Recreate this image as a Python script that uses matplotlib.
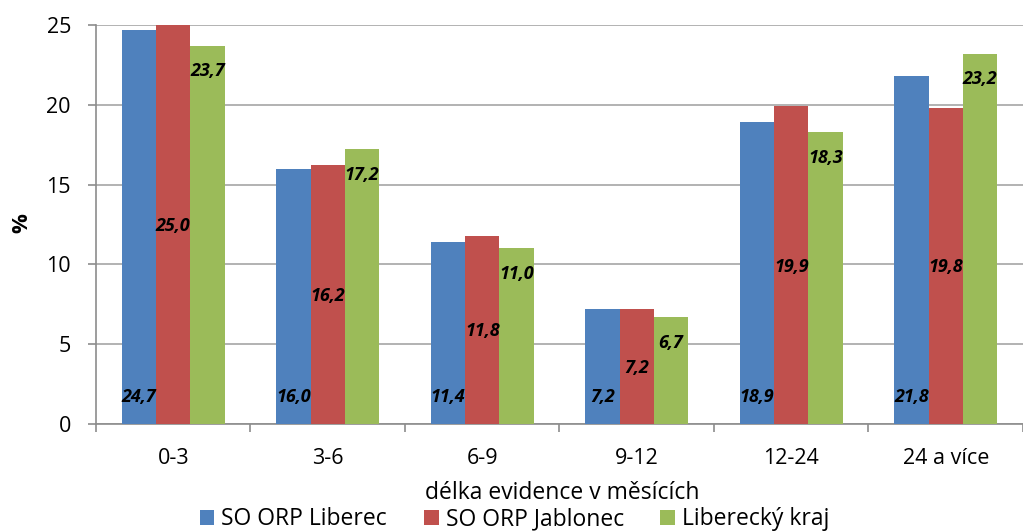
import matplotlib
matplotlib.use("Agg")
import matplotlib.pyplot as plt
import numpy as np

categories = ["0-3", "3-6", "6-9", "9-12", "12-24", "24 a více"]
series_names = ["SO ORP Liberec", "SO ORP Jablonec", "Liberecký kraj"]
liberec = [24.7, 16.0, 11.4, 7.2, 18.9, 21.8]
jablonec = [25.0, 16.2, 11.8, 7.2, 19.9, 19.8]
kraj = [23.7, 17.2, 11.0, 6.7, 18.3, 23.2]
colors = ["#4F81BD", "#C0504D", "#9BBB59"]

plt.rcParams['font.family'] = ['Open Sans', 'DejaVu Sans']

fig = plt.figure(figsize=(10.23, 5.32), dpi=100)
ax = fig.add_axes([0.0938, 0.203, 1.0 - 0.0938, 0.953 - 0.203])

x = np.arange(len(categories))
w = 0.222
series = [liberec, jablonec, kraj]
for i, (vals, c, name) in enumerate(zip(series, colors, series_names)):
    ax.bar(x + (i - 1) * w, vals, width=w, color=c, label=name, zorder=3,
           edgecolor="none")

def fmt(v):
    return f"{v:.1f}".replace(".", ",")

lab_kw = dict(ha="center", va="center", fontsize=13, fontweight="bold",
              fontstyle="italic", color="black", zorder=5)
for j in range(len(categories)):
    # blue: inside base
    ax.annotate(fmt(liberec[j]), xy=(x[j] - w, 0), xytext=(0, 19.5),
                textcoords="offset points", **lab_kw)
    # red: center
    ax.annotate(fmt(jablonec[j]), xy=(x[j], jablonec[j] / 2), xytext=(0, -1),
                textcoords="offset points", **lab_kw)
    # green: inside end
    ax.annotate(fmt(kraj[j]), xy=(x[j] + w, kraj[j]), xytext=(0, -18.5),
                textcoords="offset points", **lab_kw)

ax.set_ylim(0, 25)
ax.set_xlim(-0.5, 5.43)
ax.set_yticks([0, 5, 10, 15, 20, 25])
ax.yaxis.grid(True, color="#A6A6A6", linewidth=1.2, zorder=0)
ax.set_axisbelow(True)

ax.set_xticks(np.arange(-0.5, 5.6, 1.0))
ax.set_xticklabels([])
ax.set_xticks(x, minor=True)
ax.set_xticklabels(categories, minor=True)
ax.tick_params(axis="x", which="major", length=6, width=1.2, color="#8C8C8C", direction="out")
ax.tick_params(axis="x", which="minor", length=0, pad=17, labelsize=15.5)
ax.tick_params(axis="y", length=6, width=1.2, color="#8C8C8C", pad=12, labelsize=15.5)

for s in ["top", "right"]:
    ax.spines[s].set_visible(False)
for s in ["left", "bottom"]:
    ax.spines[s].set_color("#8C8C8C")
    ax.spines[s].set_linewidth(1.2)

fig.text(0.021, 0.58, "%", rotation=90, ha="center", va="center",
         fontsize=16, fontweight="bold")
fig.text(0.55, 0.073, "délka evidence v měsících", ha="center", va="center",
         fontsize=16.5)

fig.legend(loc="center", bbox_to_anchor=(0.503, 0.024), ncol=3, frameon=False,
           fontsize=16.5, handlelength=0.65, handleheight=0.65, handletextpad=0.3,
           columnspacing=1.6, borderaxespad=0, borderpad=0)

fig.savefig("out.png", dpi=100)
